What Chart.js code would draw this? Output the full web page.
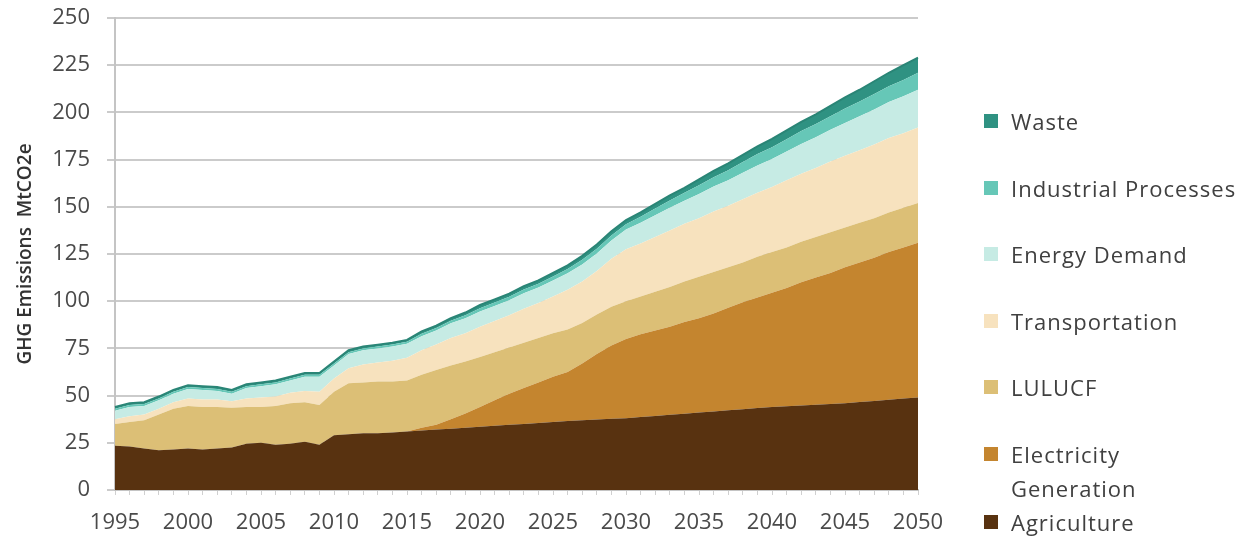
<!DOCTYPE html>
<html>
<head>
<meta charset="utf-8">
<script src="https://cdn.jsdelivr.net/npm/chart.js@4/dist/chart.umd.min.js"></script>
<style>
    html, body { margin: 0; padding: 0; background: #fff; }
    #wrap { position: relative; width: 1255px; height: 539px; }
    #legend {
        position: absolute; left: 984px; top: 104px; width: 270px;
        font-family: "Open Sans", sans-serif; font-size: 22px; letter-spacing: 1px; color: #404040;
    }
    .item { display: flex; align-items: flex-start; min-height: 66.5px; line-height: 34px; }
    .box { width: 14px; height: 14px; margin: 10px 13px 0 0; flex: none; }
    .txt { width: 232px; }
</style>
</head>
<body>
<div id="wrap">
    <canvas id="emissionsChart" width="1255" height="539"></canvas>
    <div id="legend"></div>
</div>
<script>
const years = [];
for (let y = 1995; y <= 2050; y++) years.push(String(y));

const seriesNames = ['Agriculture', 'Electricity Generation', 'LULUCF', 'Transportation',
    'Energy Demand', 'Industrial Processes', 'Waste'];
const seriesColors = ['#583210', '#c4852f', '#dcbf76', '#f7e2be', '#c6ebe4', '#66c7b7', '#2f9282'];

const agriculture = [23.5, 23, 22, 21, 21.5, 22, 21.5, 22, 22.5, 24.5, 25, 24, 24.5, 25.5, 24,
    29, 29.5, 30, 30, 30.5, 31, 31.5, 32, 32.5, 33, 33.5, 34, 34.5, 35, 35.5,
    36, 36.5, 37, 37.3, 37.7, 38, 38.6, 39.2, 39.8, 40.4, 41, 41.6, 42.2, 42.8, 43.4,
    44, 44.4, 44.8, 45.2, 45.6, 46, 46.6, 47.2, 47.8, 48.4, 49];
const electricity = [0, 0, 0, 0, 0, 0, 0, 0, 0, 0, 0, 0, 0, 0, 0,
    0, 0, 0, 0, 0, 0, 1.5, 2.5, 5, 7.5, 10.5, 13.5, 16.5, 19, 21.5,
    24, 26, 30, 34.7, 38.8, 42, 43.9, 45.3, 46.7, 48.6, 50, 51.9, 54.3, 56.7, 58.6,
    60.5, 62.6, 65.2, 67.3, 69.4, 72, 73.9, 75.8, 78.2, 80.1, 82];
const lulucf = [11.5, 13, 15, 19, 21.5, 22.5, 22.5, 22, 21, 19.5, 19, 20.5, 21.5, 21, 21,
    23, 27, 27, 27.5, 27, 27, 28, 29, 28.5, 27.5, 26.5, 25.5, 24.5, 24, 23.5,
    23, 22.5, 21.5, 21, 20.5, 20, 20, 20.5, 21, 21.5, 22, 22, 21.5, 21, 21.5,
    21.5, 21.5, 21.5, 21.5, 21.5, 21, 21, 21, 21, 21, 21];
const transportation = [2.5, 3, 3, 3, 3.5, 4, 4, 4, 3.5, 4.5, 5, 5, 5.5, 6, 7,
    7, 8, 9.5, 10, 11, 12, 13, 13.5, 14.5, 15, 16, 16.5, 17, 18, 18.5,
    19.5, 21, 22, 23, 25.5, 27.5, 28, 29, 30, 30.5, 31, 32, 32.5, 33.5, 34,
    34.5, 35.5, 36, 36.5, 37.5, 38, 38.5, 39, 39.5, 39.5, 40];
const energyDemand = [4.5, 5, 4.5, 4.5, 4.5, 5, 5, 4.5, 4, 5.5, 6, 6.5, 6.5, 7.5, 8,
    7, 7.5, 7.5, 7.5, 7.5, 7.5, 7.5, 7.5, 7.8, 8, 8, 8, 8, 8.2, 8.2,
    8.5, 8.8, 9, 9.3, 9.7, 10.5, 11, 11.5, 12, 12.2, 12.8, 13.2, 13.6, 14, 14.4,
    14.8, 15.3, 15.8, 16.3, 16.8, 17.4, 18, 18.6, 19, 19.5, 20];
const industrial = [1, 1, 1, 1, 1, 1, 1, 1, 1, 1, 1, 1, 1, 1, 1,
    1, 1, 1, 1, 1, 1, 1.3, 1.3, 1.4, 1.6, 1.8, 1.8, 1.8, 2, 2,
    2.1, 2.2, 2.4, 2.5, 2.6, 2.8, 3.2, 3.6, 3.9, 4.2, 4.6, 5, 5.3, 5.7, 6,
    6.3, 6.5, 6.8, 7, 7.2, 7.6, 7.8, 8.2, 8.4, 8.7, 9];
const waste = [1, 1, 1, 1, 1, 1, 1, 1, 1, 1, 1, 1, 1, 1, 1,
    1, 1, 1, 1, 1, 1, 1.2, 1.2, 1.3, 1.4, 1.7, 1.7, 1.7, 1.8, 1.8,
    1.9, 2, 2.1, 2.2, 2.2, 2.2, 2.3, 2.4, 2.6, 2.6, 3.1, 3.3, 3.6, 3.8, 4.1,
    4.4, 4.7, 4.9, 5.2, 5.5, 6, 6.2, 6.7, 7.1, 7.8, 8];

const yTicks = [0, 25, 50, 75, 100, 125, 150, 175, 200, 225, 250];

const seriesData = [agriculture, electricity, lulucf, transportation, energyDemand, industrial, waste];

const datasets = seriesData.map((data, i) => ({
    label: seriesNames[i],
    data: data,
    backgroundColor: seriesColors[i],
    borderColor: i === seriesData.length - 1 ? '#2a8576' : seriesColors[i],
    borderWidth: i === seriesData.length - 1 ? 2 : 0,
    fill: i === 0 ? 'origin' : '-1',
    pointRadius: 0,
    tension: 0
}));

const tickFont = { family: '"Open Sans", sans-serif', size: 22 };

new Chart(document.getElementById('emissionsChart'), {
    type: 'line',
    data: { labels: years, datasets: datasets },
    options: {
        responsive: false,
        animation: false,
        layout: { padding: { top: 18, right: 337, bottom: 0, left: 0 } },
        plugins: { legend: { display: false }, tooltip: { enabled: false } },
        scales: {
            x: {
                offset: false,
                grid: { drawOnChartArea: false, color: '#d0d0d0', tickLength: 5 },
                border: { color: '#c4c4c4', width: 2 },
                ticks: {
                    autoSkip: false, maxRotation: 0, padding: 15,
                    color: '#4a4a4a', font: tickFont,
                    callback: function (v) { const y = Number(this.getLabelForValue(v)); return y % 5 === 0 ? y : ''; }
                },
                afterFit: scale => { scale.height = 49; }
            },
            y: {
                stacked: true,
                min: 0, max: 250,
                afterBuildTicks: scale => { scale.ticks = yTicks.map(v => ({ value: v })); },
                grid: { color: '#cbcbcb', lineWidth: 2, tickLength: 8 },
                border: { color: '#c4c4c4', width: 2 },
                ticks: { padding: 17, color: '#4a4a4a', font: tickFont },
                title: {
                    display: true, text: 'GHG Emissions  MtCO2e', color: '#333',
                    font: { family: '"Open Sans", sans-serif', size: 19, weight: '600' },
                    padding: { top: 14, bottom: 0 }
                },
                afterFit: scale => {
                    scale.width = 115;
                    scale.paddingTop = 0;
                    scale.paddingBottom = 0;
                }
            }
        }
    }
});

// legend, top to bottom in reverse stack order
const legend = document.getElementById('legend');
for (let i = seriesNames.length - 1; i >= 0; i--) {
    const row = document.createElement('div');
    row.className = 'item';
    row.innerHTML = '<span class="box" style="background:' + seriesColors[i] + '"></span>' +
        '<span class="txt">' + seriesNames[i] + '</span>';
    legend.appendChild(row);
}
</script>
</body>
</html>
